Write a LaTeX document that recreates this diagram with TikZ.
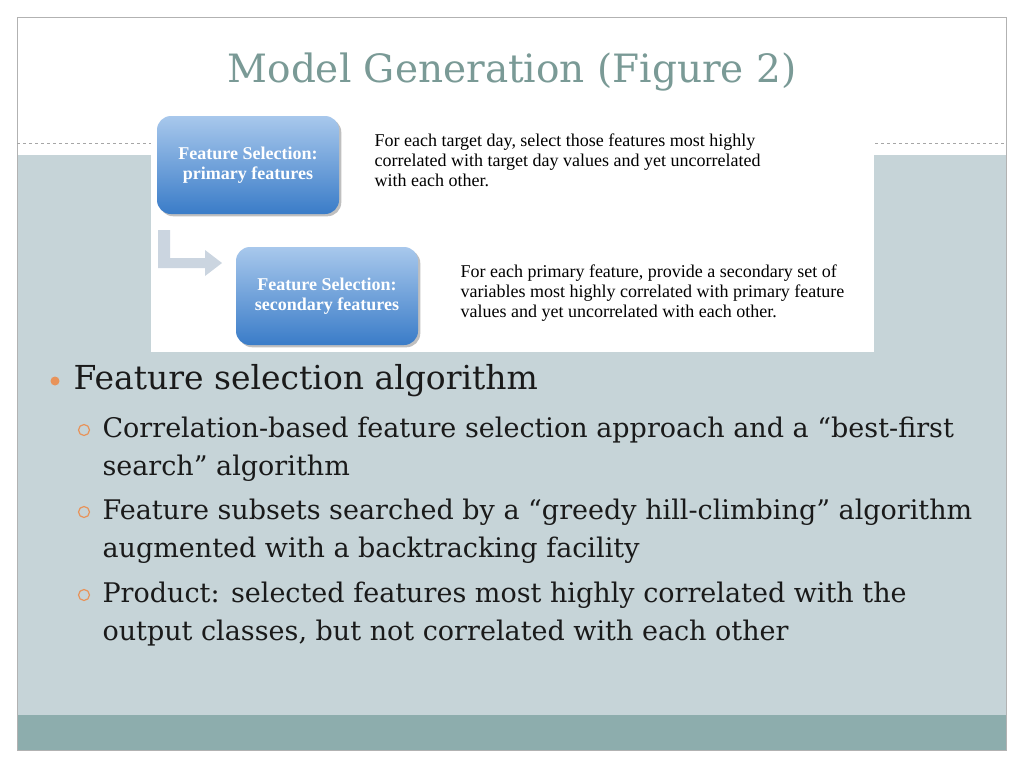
\documentclass[tikz,border=0pt]{standalone}
\usepackage{fontspec}
\setmainfont{Liberation Serif}
\newfontfamily\slidefont{DejaVu Serif}
\usetikzlibrary{shapes.arrows,shadows}
\definecolor{bgc}{HTML}{C6D4D8}
\definecolor{band}{HTML}{8DADAD}
\definecolor{titc}{HTML}{7A9A96}
\definecolor{txt}{HTML}{1A1A1A}
\definecolor{bul}{HTML}{E8935A}
\definecolor{bxt}{HTML}{A8C8EC}
\definecolor{bxb}{HTML}{3A7CC8}
\tikzset{
 fbox/.style={rounded corners=14pt,top color=bxt,bottom color=bxb,draw=none,minimum width=182pt,minimum height=98pt,align=center,text=white,font=\bfseries\fontsize{18}{20}\selectfont,drop shadow},
 desc/.style={anchor=north west,align=left,font=\fontsize{18}{20}\selectfont,text=black},
 item/.style={anchor=west,align=left,text=txt,font=\slidefont\fontsize{27}{38}\selectfont},
}
\begin{document}
\begin{tikzpicture}[x=1pt,y=-1pt]
\useasboundingbox (0,0) rectangle (1024,768);
\fill[white] (0,0) rectangle (1024,768);
\fill[bgc] (17,155) rectangle (1006,715);
\fill[band] (17,715) rectangle (1006,750);
\draw[gray!60,line width=0.6pt] (17,17) rectangle (1006,750);
\draw[gray!70,dashed,line width=0.5pt] (17,143) -- (1006,143);
\node[text=titc,font=\slidefont\fontsize{39}{44}\selectfont] (title) at (512,72) {Model Generation (Figure 2)};
\fill[white] (151,113) rectangle (874,352);
\node[fbox] (b1) at (248,165) {Feature Selection:\\primary features};
\node[fbox] (b2) at (327,296) {Feature Selection:\\secondary features};
\fill[bxt!60!gray!50] (158,230) -- (170,230) -- (170,258) -- (205,258) -- (205,250) -- (222,263) -- (205,276) -- (205,268) -- (158,268) -- cycle;
\node[desc] (d1) at (371,130) {For each target day, select those features most highly\\correlated with target day values and yet uncorrelated\\with each other.};
\node[desc] (d2) at (457,261) {For each primary feature, provide a secondary set of\\variables most highly correlated with primary feature\\values and yet uncorrelated with each other.};
\fill[bul] (55,381) circle (4.5pt);
\node[item,font=\slidefont\fontsize{33}{40}\selectfont] (h) at (70,381) {Feature selection algorithm};
\foreach \y in {430,512,595} \draw[bul,line width=1.2pt] (84,\y) circle (5.5pt);
\node[item,anchor=north west] (i1) at (99,413) {Correlation-based feature selection approach and a “best-first\\search” algorithm};
\node[item,anchor=north west] (i2) at (99,495) {Feature subsets searched by a “greedy hill-climbing” algorithm\\augmented with a backtracking facility};
\node[item,anchor=north west] (i3) at (99,578) {Product: selected features most highly correlated with the\\output classes, but not correlated with each other};
\end{tikzpicture}
\end{document}
